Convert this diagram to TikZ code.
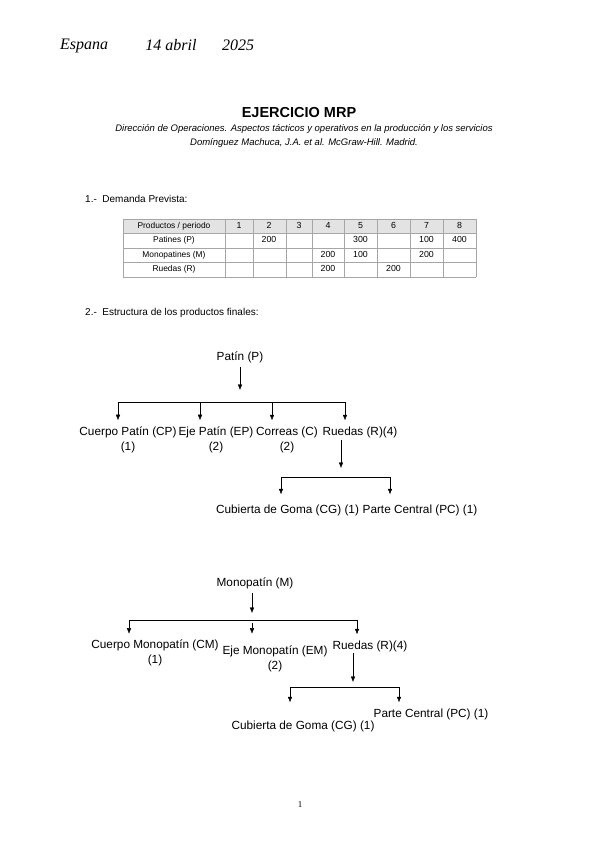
\documentclass[tikz,border=0pt]{standalone}
\usepackage{fontspec}
\setmainfont{Liberation Sans}
\newfontfamily\handfont{Liberation Serif}
\usetikzlibrary{arrows.meta}

\begin{document}
\begin{tikzpicture}[
     x = 1pt, y = -1pt,
     >= {Latex[length=5.5pt,width=4.5pt]},
     part/.style = {font=\fontsize{11.8}{15}\selectfont, inner sep=0pt, align=center},
     cell/.style = {font=\fontsize{8.4}{9}\selectfont, inner sep=0pt, text height=6.2pt, text depth=1.8pt},
     num/.style = {font=\fontsize{8.8}{9}\selectfont, inner sep=0pt, text height=6.2pt, text depth=1.8pt},
     note/.style = {font=\fontsize{10}{11}\selectfont, inner sep=0pt, anchor=west},
     hand/.style = {font=\handfont\itshape\fontsize{16}{18}\selectfont, inner sep=0pt},
     grid line/.style = {draw=gray!70, line width=0.8pt}
    ]
    \useasboundingbox[fill=white] (0,0) rectangle (599,848);

    \node[hand] (hand1) at (84,46) {Espana};
    \node[hand] (hand2) at (171,45) {14 abril};
    \node[hand] (hand3) at (238,45) {2025};

    \node[inner sep=0pt, font=\bfseries\fontsize{14.5}{16}\selectfont] (title) at (299,113) {EJERCICIO MRP};
    \node[inner sep=0pt, font=\itshape\fontsize{9.5}{14}\selectfont, align=center] (source) at (304,136)
      {Dirección de Operaciones. Aspectos tácticos y operativos en la producción y los servicios\\
       Domínguez Machuca, J.A. et al. McGraw-Hill. Madrid.};

    \node[note] (demanda) at (85,199) {1.-\ \ Demanda Prevista:};

    % tabla de demanda
    \fill[gray!22] (123,219) rectangle (476,233);
    \foreach \x in {123,225,253,286,312,344,377,410,443,476}
      \draw[grid line] (\x,219) -- (\x,277);
    \foreach \y in {219,233,248,262,277}
      \draw[grid line] (123,\y) -- (476,\y);
    \node[cell] (hdr) at (174,226) {Productos / periodo};
    \foreach \x/\n in {239/1,269/2,299/3,328/4,360.5/5,393.5/6,426.5/7,459.5/8}
      \node[num] at (\x,226) {\n};
    \node[cell] (rowP) at (174,240.5) {Patines (P)};
    \node[cell] (rowM) at (174,255) {Monopatines (M)};
    \node[cell] (rowR) at (174,269.5) {Ruedas (R)};
    \foreach \x/\q in {269/200,360.5/300,426.5/100,459.5/400}
      \node[num] at (\x,240.5) {\q};
    \foreach \x/\q in {328/200,360.5/100,426.5/200}
      \node[num] at (\x,255) {\q};
    \foreach \x/\q in {328/200,393.5/200}
      \node[num] at (\x,269.5) {\q};

    \node[note] (estructura) at (85,313) {2.-\ \ Estructura de los productos finales:};

    % patin
    \node[part] (patin) at (240,357) {Patín (P)};
    \node[part] (cp) at (128,439.5) {Cuerpo Patín (CP)\\(1)};
    \node[part] (ep) at (216,439.5) {Eje Patín (EP)\\(2)};
    \node[part] (correas) at (287,439.5) {Correas (C)\\(2)};
    \node[part] (ruedasP) at (360,432) {Ruedas (R)(4)};
    \node[part] (cgP) at (287.5,510) {Cubierta de Goma (CG) (1)};
    \node[part] (pcP) at (420,510) {Parte Central (PC) (1)};

    \coordinate (barP1) at (118,402);
    \coordinate (barP2) at (200,402);
    \coordinate (barP3) at (272,402);
    \coordinate (barP4) at (345,402);
    \coordinate (subP) at (341,477);
    \coordinate (subP1) at (281,477);
    \coordinate (subP2) at (390,477);

    \draw[->, shorten <=4pt, shorten >=12pt] (patin.south) -- (patin.south |- barP1);
    \draw (barP1) -- (barP4);
    \foreach \b/\c in {barP1/cp,barP2/ep,barP3/correas,barP4/ruedasP}
      \draw[->, shorten >=6pt] (\b) -- (\b |- \c.north);
    \draw[->, shorten <=2.5pt, shorten >=9pt] (subP |- ruedasP.south) -- (subP);
    \draw (subP1) -- (subP2);
    \draw[->, shorten >=10pt] (subP1) -- (subP1 |- cgP.north);
    \draw[->, shorten >=10pt] (subP2) -- (subP2 |- pcP.north);

    % monopatin
    \node[part] (mono) at (255,583) {Monopatín (M)};
    \node[part] (cm) at (155,653) {Cuerpo Monopatín (CM)\\(1)};
    \node[part] (em) at (275,659) {Eje Monopatín (EM)\\(2)};
    \node[part] (ruedasM) at (370,646) {Ruedas (R)(4)};
    \node[part] (cgM) at (303,726) {Cubierta de Goma (CG) (1)};
    \node[part] (pcM) at (431,714) {Parte Central (PC) (1)};

    \coordinate (barM1) at (129,620);
    \coordinate (barM2) at (252,620);
    \coordinate (barM3) at (357,620);
    \coordinate (subM) at (353,687);
    \coordinate (subM1) at (290,687);
    \coordinate (subM2) at (399,687);

    \draw[->, shorten <=4pt, shorten >=7pt] (barM2 |- mono.south) -- (barM2);
    \draw (barM1) -- (barM3);
    \draw[->, shorten >=6pt] (barM1) -- (barM1 |- cm.north);
    \draw[->, shorten <=3pt, shorten >=12pt] (barM2) -- (barM2 |- em.north);
    \draw[->, shorten >=6pt] (barM3) -- (barM3 |- ruedasM.north);
    \draw[->, shorten <=1.5pt, shorten >=5pt] (subM |- ruedasM.south) -- (subM);
    \draw (subM1) -- (subM2);
    \draw[->, shorten >=18pt] (subM1) -- (subM1 |- cgM.north);
    \draw[->, shorten >=6pt] (subM2) -- (subM2 |- pcM.north);

    \node[inner sep=0pt, font=\handfont\fontsize{9}{10}\selectfont] (page) at (300,805) {1};
\end{tikzpicture}
\end{document}
